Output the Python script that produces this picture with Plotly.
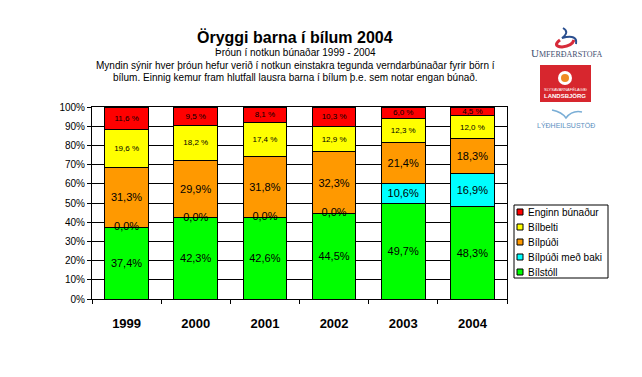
import plotly.graph_objects as go

years = ["1999", "2000", "2001", "2002", "2003", "2004"]
bilstoll = [37.4, 42.3, 42.6, 44.5, 49.7, 48.3]
bilpudi_baki = [0.0, 0.0, 0.0, 0.0, 10.6, 16.9]
bilpudi = [31.3, 29.9, 31.8, 32.3, 21.4, 18.3]
bilbelti = [19.6, 18.2, 17.4, 12.9, 12.3, 12.0]
enginn = [11.6, 9.5, 8.1, 10.3, 6.0, 4.5]

series = [
    ("Bílstóll", bilstoll, "#00FF00", 11, ""),
    ("Bílpúði með baki", bilpudi_baki, "#00FFFF", 11, ""),
    ("Bílpúði", bilpudi, "#FF9900", 11, ""),
    ("Bílbelti", bilbelti, "#FFFF00", 8, " "),
    ("Enginn búnaður", enginn, "#FF0000", 8, " "),
]

# reference pixel geometry (page has an 8px body margin)
OFF = 8
L, R, T, B = 92, 507, 107, 299
W, H = 642, 377
def px(x):
    return (x - L) / (R - L)
def py(y):
    return (B - y) / (B - T)

def fmt(v, sp):
    return f"{v:.1f}".replace(".", ",") + sp + "%"

fig = go.Figure()
for name, vals, col, fs, sp in series:
    fig.add_trace(go.Bar(
        x=years, y=vals, name=name,
        marker=dict(color=col, line=dict(color="black", width=1)),
        text=[fmt(v, sp) if v > 0 else "" for v in vals],
        textposition="inside", insidetextanchor="middle", textangle=0,
        constraintext="none",
        textfont=dict(size=fs, color="black", family="Liberation Sans"),
        hoverinfo="skip", showlegend=False,
    ))

# zero-value labels for "Bílpúði með baki"
zx = [y for y, v in zip(years, bilpudi_baki) if v == 0]
zy = [s for s, v in zip(bilstoll, bilpudi_baki) if v == 0]
fig.add_trace(go.Scatter(
    x=zx, y=zy, mode="text", text=[fmt(0.0, "") for _ in zx],
    textfont=dict(size=11, color="black", family="Liberation Sans"),
    showlegend=False, hoverinfo="skip",
))

ann = []
def A(text, x, y, size, color="black", family="Liberation Sans", xanchor="center"):
    ann.append(dict(text=text, x=px(x), y=py(y), xref="paper", yref="paper",
                    showarrow=False, xanchor=xanchor, yanchor="middle",
                    font=dict(size=size, family=family, color=color)))

A("<b>Öryggi barna í bílum 2004</b>", 295, 37, 16)
A("Þróun í notkun búnaðar 1999 - 2004", 295, 52, 10)
A("Myndin sýnir hver þróun hefur verið í notkun einstakra tegunda verndarbúnaðar fyrir börn í", 295, 65, 10)
A("bílum. Einnig kemur fram hlutfall lausra barna í bílum þ.e. sem notar engan búnað.", 295, 78, 10)
# logo texts
A("U<span style='font-size:8px'>MFERÐARSTOFA</span>", 566, 53, 11, "#3f4f70", "Liberation Serif")
A("SLYSAVARNAFÉLAGIÐ", 565, 89, 4, "white")
A("<b>LANDSBJÖRG</b>", 565, 96, 6, "white")
A("LÝÐHEILSUSTÖÐ", 566, 125, 7, "#5b8fc0")

shapes = []
# red Landsbjörg box
shapes.append(dict(type="rect", xref="paper", yref="paper", x0=px(540), x1=px(591),
                   y0=py(102), y1=py(65), fillcolor="#d7262e", line=dict(width=0)))
shapes.append(dict(type="circle", xref="paper", yref="paper", x0=px(558), x1=px(572),
                   y0=py(85), y1=py(71), fillcolor="white", line=dict(width=0)))
shapes.append(dict(type="circle", xref="paper", yref="paper", x0=px(561), x1=px(569),
                   y0=py(82), y1=py(74), fillcolor="#f08a24", line=dict(width=0)))
# Umferðarstofa symbol
shapes.append(dict(type="path", xref="paper", yref="paper",
                   path=f"M {px(560)} {py(40)} Q {px(552)} {py(46)} {px(562)} {py(47)} Q {px(572)} {py(46)} {px(574)} {py(40)}",
                   line=dict(color="#d72b3a", width=3)))
shapes.append(dict(type="path", xref="paper", yref="paper",
                   path=f"M {px(563)} {py(28)} Q {px(570)} {py(32)} {px(562)} {py(38)} Q {px(578)} {py(34)} {px(576)} {py(44)}",
                   line=dict(color="#2a4f8f", width=2)))
# Lýðheilsustöð symbol
shapes.append(dict(type="path", xref="paper", yref="paper",
                   path=f"M {px(552)} {py(110)} Q {px(562)} {py(112)} {px(566)} {py(118)} Q {px(572)} {py(110)} {px(582)} {py(112)}",
                   line=dict(color="#7aaed6", width=1.5)))

# legend box (drawn to match the compact reference legend)
shapes.append(dict(type="rect", xref="paper", yref="paper", x0=px(514), x1=px(608),
                   y0=py(278), y1=py(205), fillcolor="white", line=dict(color="black", width=1)))
leg_y = [212, 227, 242, 257, 272]
for (name, vals, col, fs, sp), yy in zip(reversed(series), leg_y):
    shapes.append(dict(type="rect", xref="paper", yref="paper", x0=px(517), x1=px(523),
                       y0=py(yy + 3), y1=py(yy - 3), fillcolor=col, line=dict(color="black", width=1)))
    A(name, 526, yy, 10, xanchor="left")

fig.update_layout(
    width=W - OFF, height=H - OFF,
    margin=dict(l=L - OFF, r=W - R, t=T - OFF, b=H - B, pad=0),
    barmode="stack", bargap=0.37,
    plot_bgcolor="white", paper_bgcolor="white",
    separators=",.",
    font=dict(family="Liberation Sans", size=10, color="black"),
    showlegend=False,
    annotations=ann, shapes=shapes,
)
fig.update_xaxes(
    type="category", showline=True, linecolor="black", linewidth=1, mirror=True,
    ticks="outside", ticklen=4, tickcolor="black", tickson="boundaries",
    showgrid=False, ticklabelstandoff=12,
    tickfont=dict(size=13, family="Liberation Sans", color="black", weight="bold"),
)
fig.update_yaxes(
    range=[0, 100], dtick=10, ticksuffix="%",
    showline=True, linecolor="black", linewidth=1, mirror=True,
    ticks="outside", ticklen=4, tickcolor="black",
    showgrid=True, gridcolor="black", gridwidth=1,
    tickfont=dict(size=10, family="Liberation Sans", color="black"),
    zeroline=False,
)

fig.write_html("out.html")
